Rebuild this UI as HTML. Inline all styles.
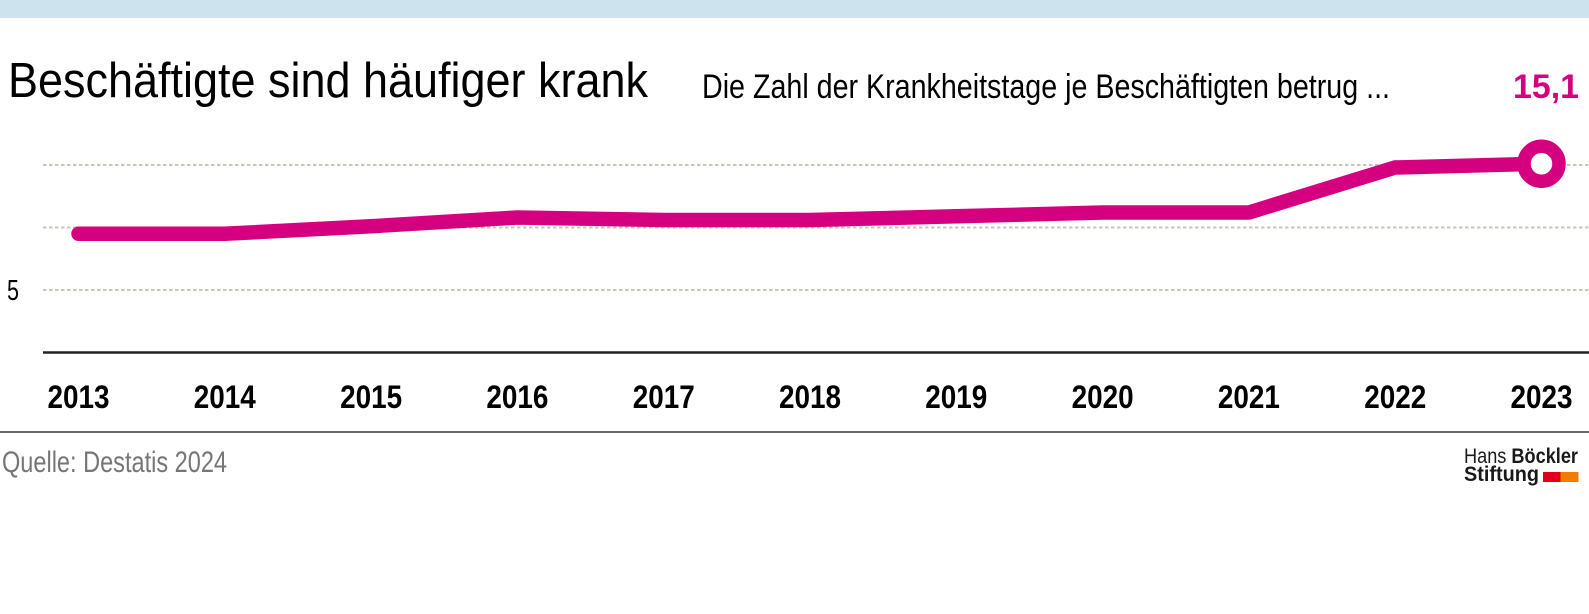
<!DOCTYPE html>
<html>
<head>
<meta charset="utf-8">
<style>
html,body{margin:0;padding:0;background:#fff;}
svg{display:block;}
text{font-family:"Liberation Sans Narrow","Liberation Sans",sans-serif;}
</style>
</head>
<body>
<svg width="1589" height="614" viewBox="0 0 1589 614" xmlns="http://www.w3.org/2000/svg">
  <rect x="0" y="0" width="1589" height="614" fill="#ffffff"/>
  <rect x="0" y="0" width="1589" height="18" fill="#cde4ee"/>

  <!-- Title & subtitle -->
  <text x="8" y="97" font-size="49" fill="#000" textLength="640" lengthAdjust="spacingAndGlyphs">Beschäftigte sind häufiger krank</text>
  <text x="702" y="98" font-size="34" fill="#000" textLength="688" lengthAdjust="spacingAndGlyphs">Die Zahl der Krankheitstage je Beschäftigten betrug ...</text>
  <text x="1513" y="98" font-size="34" font-weight="bold" fill="#d5007f" textLength="66" lengthAdjust="spacingAndGlyphs">15,1</text>

  <!-- gridlines -->
  <g stroke="#c9c6b5" stroke-width="2" stroke-dasharray="3.5 2.5" fill="none">
    <line x1="43" y1="165" x2="1589" y2="165"/>
    <line x1="43" y1="227.5" x2="1589" y2="227.5"/>
    <line x1="43" y1="290" x2="1589" y2="290"/>
  </g>
  <text x="7" y="300" font-size="29" fill="#000" textLength="12" lengthAdjust="spacingAndGlyphs">5</text>

  <!-- axis -->
  <line x1="43" y1="352.5" x2="1589" y2="352.5" stroke="#222" stroke-width="2.5"/>

  <!-- series -->
  <polyline fill="none" stroke="#d5007f" stroke-width="14.5" stroke-linecap="round" stroke-linejoin="miter"
    points="78.5,233.75 224.8,233.75 371.1,226.25 517.4,217.5 663.7,220 810,220 956.3,216.25 1102.6,212.5 1248.9,212.5 1395.2,167.5 1541.5,163.75"/>
  <circle cx="1541.5" cy="163.75" r="17.5" fill="#fff" stroke="#d5007f" stroke-width="13.5"/>

  <!-- year labels -->
  <g font-size="32" font-weight="bold" fill="#000" text-anchor="middle">
    <text x="78.5" y="408" textLength="62" lengthAdjust="spacingAndGlyphs">2013</text>
    <text x="224.8" y="408" textLength="62" lengthAdjust="spacingAndGlyphs">2014</text>
    <text x="371.1" y="408" textLength="62" lengthAdjust="spacingAndGlyphs">2015</text>
    <text x="517.4" y="408" textLength="62" lengthAdjust="spacingAndGlyphs">2016</text>
    <text x="663.7" y="408" textLength="62" lengthAdjust="spacingAndGlyphs">2017</text>
    <text x="810" y="408" textLength="62" lengthAdjust="spacingAndGlyphs">2018</text>
    <text x="956.3" y="408" textLength="62" lengthAdjust="spacingAndGlyphs">2019</text>
    <text x="1102.6" y="408" textLength="62" lengthAdjust="spacingAndGlyphs">2020</text>
    <text x="1248.9" y="408" textLength="62" lengthAdjust="spacingAndGlyphs">2021</text>
    <text x="1395.2" y="408" textLength="62" lengthAdjust="spacingAndGlyphs">2022</text>
    <text x="1541.5" y="408" textLength="62" lengthAdjust="spacingAndGlyphs">2023</text>
  </g>

  <!-- bottom rule -->
  <line x1="0" y1="432" x2="1589" y2="432" stroke="#333" stroke-width="1.5"/>

  <!-- source -->
  <text x="2" y="472" font-size="30" fill="#767676" textLength="225" lengthAdjust="spacingAndGlyphs">Quelle: Destatis 2024</text>

  <!-- logo -->
  <text x="1464" y="463" font-size="21" fill="#1a1a1a" font-family="Liberation Sans, sans-serif" textLength="114" lengthAdjust="spacingAndGlyphs"><tspan>Hans </tspan><tspan font-weight="bold">Böckler</tspan></text>
  <text x="1464" y="481" font-size="21" font-weight="bold" fill="#1a1a1a" font-family="Liberation Sans, sans-serif" textLength="75" lengthAdjust="spacingAndGlyphs">Stiftung</text>
  <rect x="1543" y="472" width="17.5" height="10" fill="#e2001a"/>
  <rect x="1560.5" y="472" width="18" height="10" fill="#f07d00"/>
</svg>
</body>
</html>
